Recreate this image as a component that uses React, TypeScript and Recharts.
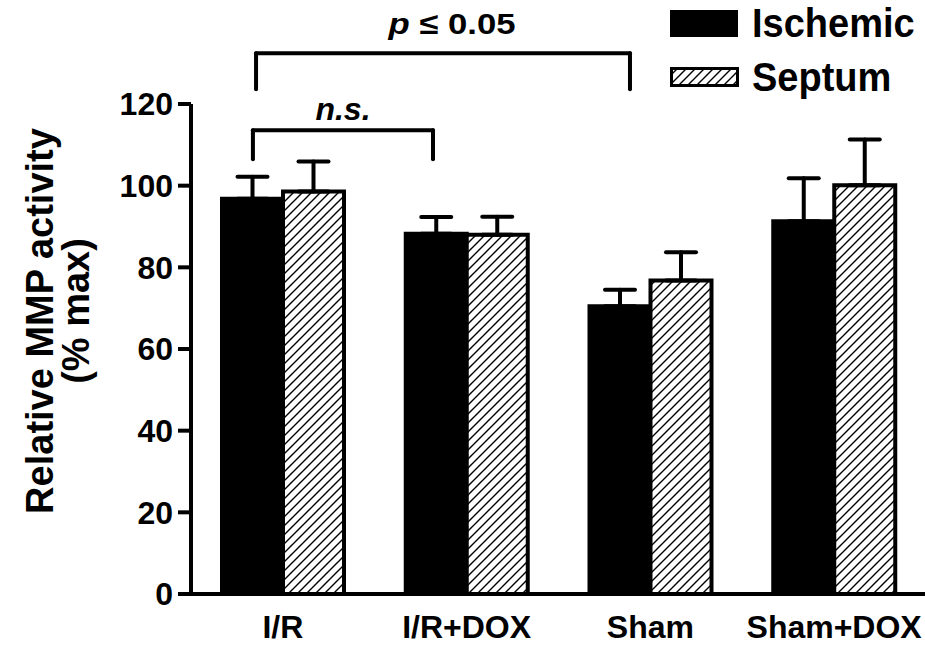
import React from 'react';
import { BarChart, Bar, XAxis, YAxis, ErrorBar, ReferenceLine, Legend } from 'recharts';

const FONT = '"Liberation Sans", Arial, Helvetica, sans-serif';

const categories = ['I/R', 'I/R+DOX', 'Sham', 'Sham+DOX'];
const categoryPositions = [0.5, 1.5, 2.5, 3.5];
const ischemicValues = [96.8, 88.2, 70.5, 91.3];
const ischemicErrors = [5.4, 4.1, 4.0, 10.5];
const septumValues = [98.6, 88.0, 76.8, 100.1];
const septumErrors = [7.3, 4.4, 6.9, 11.2];
const yTicks = [0, 20, 40, 60, 80, 100, 120];

// significance brackets (x in category units along a numeric helper axis, y in data units)
const nsBracket = { x1: 0.337, x2: 1.317, top: 113.6, bottom: 106.5 };
const pBracket = { x1: 0.354, x2: 2.389, top: 132.4, bottom: 123.6 };

const data = categories.map((name, i) => ({
  name,
  pos: categoryPositions[i],
  ischemic: ischemicValues[i],
  ischemicErr: [0, ischemicErrors[i]],
  septum: septumValues[i],
  septumErr: [0, septumErrors[i]],
}));

const lineProps = { stroke: '#000', strokeWidth: 4, strokeLinecap: 'round' as const, ifOverflow: 'visible' as const, xAxisId: 'num' };

const nsLabel = (props: any) => {
  const vb = props.viewBox || {};
  const cx = vb.x + vb.width / 2;
  return (
    <text x={cx} y={vb.y - 10} textAnchor="middle" fontFamily={FONT} fontSize={32} fontWeight={700} fontStyle="italic" fill="#000">
      n.s.
    </text>
  );
};

const pLabel = (props: any) => {
  const vb = props.viewBox || {};
  const cx = vb.x + vb.width / 2 + 9;
  return (
    <text x={cx} y={vb.y - 19} textAnchor="middle" fontFamily={FONT} fontSize={30} fontWeight={700} fill="#000" textLength={127} lengthAdjust="spacingAndGlyphs">
      <tspan fontStyle="italic">p</tspan>
      <tspan> ≤ 0.05</tspan>
    </text>
  );
};

const yLabel = () => (
  <g>
    <text transform="translate(53,321) rotate(-90)" textAnchor="middle" fontFamily={FONT} fontSize={38} fontWeight={700} fill="#000">
      Relative MMP activity
    </text>
    <text transform="translate(89,311) rotate(-90)" textAnchor="middle" fontFamily={FONT} fontSize={38} fontWeight={700} fill="#000">
      (% max)
    </text>
  </g>
);

const renderLegend = (props: any) => {
  const payload = props.payload || [];
  return (
    <div style={{ fontFamily: FONT, position: 'relative', width: 260, height: 110 }}>
      {payload.map((entry: any, i: number) => {
        const hatched = entry.dataKey === 'septum';
        const boxH = hatched ? 18 : 27;
        const cy = i === 0 ? 23 : 77;
        return (
          <div key={entry.value} style={{ position: 'absolute', left: 0, top: cy - 27, height: 54, display: 'flex', alignItems: 'center' }}>
            <svg width={70} height={boxH + 2} style={{ display: 'block' }}>
              <rect
                x={hatched ? 1.5 : 0}
                y={hatched ? 1.5 : 1}
                width={hatched ? 66 : 68}
                height={hatched ? boxH - 1 : boxH}
                fill={hatched ? 'url(#hatch)' : '#000'}
                stroke={hatched ? '#000' : 'none'}
                strokeWidth={3}
              />
            </svg>
            <span
              style={{
                fontSize: 40,
                fontWeight: 700,
                color: '#000',
                marginLeft: 12,
                lineHeight: 1,
                display: 'inline-block',
                transform: 'scaleX(0.95)',
                transformOrigin: 'left center',
              }}
            >
              {entry.value}
            </span>
          </div>
        );
      })}
    </div>
  );
};

export default function App() {
  return (
    <div style={{ position: 'absolute', left: 0, top: 0, width: 925, height: 646, overflow: 'hidden', background: '#fff' }}>
      <svg width={0} height={0} style={{ position: 'absolute' }}>
        <defs>
          <pattern id="hatch" patternUnits="userSpaceOnUse" width="9" height="9">
            <rect width="9" height="9" fill="#fff" />
            <path d="M0,9 L9,0 M-2,2 L2,-2 M7,11 L11,7" stroke="#000" strokeWidth="1.4" />
          </pattern>
        </defs>
      </svg>
      <BarChart
        width={936}
        height={646}
        data={data}
        margin={{ top: 104, right: 10, bottom: 12, left: 101 }}
        barGap={0}
        barSize={61}
      >
        <XAxis
          dataKey="name"
          interval={0}
          height={40}
          tickLine={false}
          tickSize={0}
          tickMargin={21}
          axisLine={{ stroke: '#000', strokeWidth: 4 }}
          tick={{ fill: '#000', fontSize: 32, fontWeight: 700, fontFamily: FONT }}
        />
        <XAxis xAxisId="num" dataKey="pos" type="number" domain={[0, 4]} allowDataOverflow hide />
        <YAxis
          width={90}
          domain={[0, 120]}
          ticks={yTicks}
          interval={0}
          tickSize={13}
          tickMargin={5}
          axisLine={{ stroke: '#000', strokeWidth: 4 }}
          tickLine={{ stroke: '#000', strokeWidth: 4 }}
          tick={{ fill: '#000', fontSize: 32, fontWeight: 700, fontFamily: FONT }}
          label={{ content: yLabel }}
        />
        <Legend
          layout="horizontal"
          verticalAlign="middle"
          align="center"
          content={renderLegend}
          wrapperStyle={{ position: 'absolute', left: 670, top: 0, width: 260, height: 110 }}
        />
        <Bar dataKey="ischemic" name="Ischemic" fill="#000" stroke="#000" strokeWidth={4} isAnimationActive={false}>
          <ErrorBar dataKey="ischemicErr" direction="y" width={15} stroke="#000" strokeWidth={4} strokeLinecap="round" />
        </Bar>
        <Bar dataKey="septum" name="Septum" fill="url(#hatch)" stroke="#000" strokeWidth={4} isAnimationActive={false}>
          <ErrorBar dataKey="septumErr" direction="y" width={15} stroke="#000" strokeWidth={4} strokeLinecap="round" />
        </Bar>
        <ReferenceLine {...lineProps} segment={[{ x: nsBracket.x1, y: nsBracket.bottom }, { x: nsBracket.x1, y: nsBracket.top }]} />
        <ReferenceLine {...lineProps} segment={[{ x: nsBracket.x2, y: nsBracket.bottom }, { x: nsBracket.x2, y: nsBracket.top }]} />
        <ReferenceLine {...lineProps} segment={[{ x: nsBracket.x1, y: nsBracket.top }, { x: nsBracket.x2, y: nsBracket.top }]} label={nsLabel} />
        <ReferenceLine {...lineProps} segment={[{ x: pBracket.x1, y: pBracket.bottom }, { x: pBracket.x1, y: pBracket.top }]} />
        <ReferenceLine {...lineProps} segment={[{ x: pBracket.x2, y: pBracket.bottom }, { x: pBracket.x2, y: pBracket.top }]} />
        <ReferenceLine {...lineProps} segment={[{ x: pBracket.x1, y: pBracket.top }, { x: pBracket.x2, y: pBracket.top }]} label={pLabel} />
      </BarChart>
    </div>
  );
}
